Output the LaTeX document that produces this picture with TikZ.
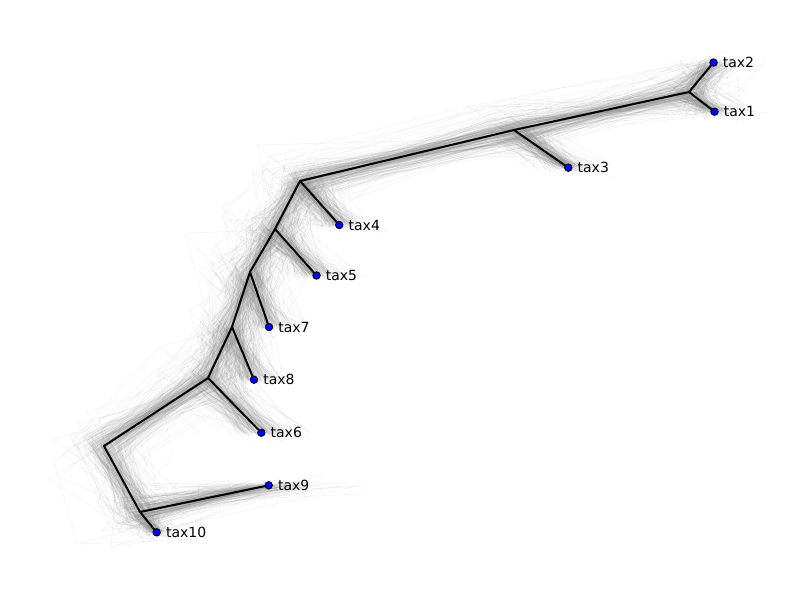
\documentclass[tikz,border=0pt]{standalone}
\usepackage{fontspec}
\setmainfont{DejaVu Sans}
\usetikzlibrary{calc}
\pgfdeclarelayer{background}
\pgfsetlayers{background,main}
\tikzstyle{leaf} = [circle, minimum size=7.5pt, inner sep=0pt, draw=black, line width=0.8pt, fill=blue]
\tikzstyle{taxlabel} = [font=\fontsize{14}{16}\selectfont, inner sep=5pt]
\tikzstyle{branch} = [line width=2pt, black, line cap=round, line join=round]
\tikzstyle{cloud} = [line width=0.6pt, black!60, opacity=0.07]

\begin{document}
\begin{tikzpicture}[x=1pt, y=-1pt]
\useasboundingbox (0,0) rectangle (800,600);
% inner nodes of the tree
\coordinate (n1) at (689,92);
\coordinate (n2) at (514,130);
\coordinate (n3) at (300,181);
\coordinate (n4) at (275,229);
\coordinate (n5) at (250,272);
\coordinate (n6) at (232,327);
\coordinate (n7) at (208,378);
\coordinate (n8) at (104,446);
\coordinate (n9) at (140,512);
% leaves
\node (tax2) [leaf, label={[taxlabel]right:tax2}] at (713.5,62.5) {};
\node (tax1) [leaf, label={[taxlabel]right:tax1}] at (714.5,111.7) {};
\node (tax3) [leaf, label={[taxlabel]right:tax3}] at (568.3,167.7) {};
\node (tax4) [leaf, label={[taxlabel]right:tax4}] at (339.3,225) {};
\node (tax5) [leaf, label={[taxlabel]right:tax5}] at (316.5,275.5) {};
\node (tax7) [leaf, label={[taxlabel]right:tax7}] at (269,327) {};
\node (tax8) [leaf, label={[taxlabel]right:tax8}] at (254,379.7) {};
\node (tax6) [leaf, label={[taxlabel]right:tax6}] at (261.3,432.7) {};
\node (tax9) [leaf, label={[taxlabel]right:tax9}] at (268.7,485.3) {};
\node (tax10) [leaf, label={[taxlabel]right:tax10}] at (156.7,532.3) {};

\begin{pgfonlayer}{background}
% cloud of sampled trees, some close to the consensus, some far off
\pgfmathsetseed{4242}
\foreach \k in {1,...,240}{
  \pgfmathsetmacro\s{0.25+1.1*rnd*rnd}
  \foreach \n in {n1,n2,n3,n4,n5,n6,n7,n8,n9}
    \coordinate (j\n) at ($(\n)+({\s*34*(rand+rand)},{\s*20*(rand+rand)})$);
  \foreach \t/\a in {tax1/30,tax2/30,tax3/30,tax4/30,tax5/30,tax6/40,tax7/30,tax8/30,tax9/70,tax10/20}
    \coordinate (j\t) at ($(\t.center)+({\s*\a*(rand+rand)},{\s*6*(rand+rand)})$);
  \draw [cloud] (jn1) -- (jtax2) (jn1) -- (jtax1) (jn2) -- (jn1) (jn2) -- (jtax3)
    (jn3) -- (jn2) (jn3) -- (jtax4) (jn3) -- (jn4) (jn4) -- (jtax5) (jn4) -- (jn5)
    (jn5) -- (jtax7) (jn5) -- (jn6) (jn6) -- (jtax8) (jn6) -- (jn7) (jn7) -- (jtax6)
    (jn7) -- (jn8) (jn8) -- (jn9) (jn9) -- (jtax9) (jn9) -- (jtax10);
}
% consensus tree
\draw [branch] (n1) -- (tax2.center);
\draw [branch] (n1) -- (tax1.center);
\draw [branch] (n2) -- (n1);
\draw [branch] (n2) -- (tax3.center);
\draw [branch] (n3) -- (n2);
\draw [branch] (n3) -- (tax4.center);
\draw [branch] (n3) -- (n4);
\draw [branch] (n4) -- (tax5.center);
\draw [branch] (n4) -- (n5);
\draw [branch] (n5) -- (tax7.center);
\draw [branch] (n5) -- (n6);
\draw [branch] (n6) -- (tax8.center);
\draw [branch] (n6) -- (n7);
\draw [branch] (n7) -- (tax6.center);
\draw [branch] (n7) -- (n8);
\draw [branch] (n8) -- (n9);
\draw [branch] (n9) -- (tax9.center);
\draw [branch] (n9) -- (tax10.center);
\end{pgfonlayer}
\end{tikzpicture}
\end{document}
